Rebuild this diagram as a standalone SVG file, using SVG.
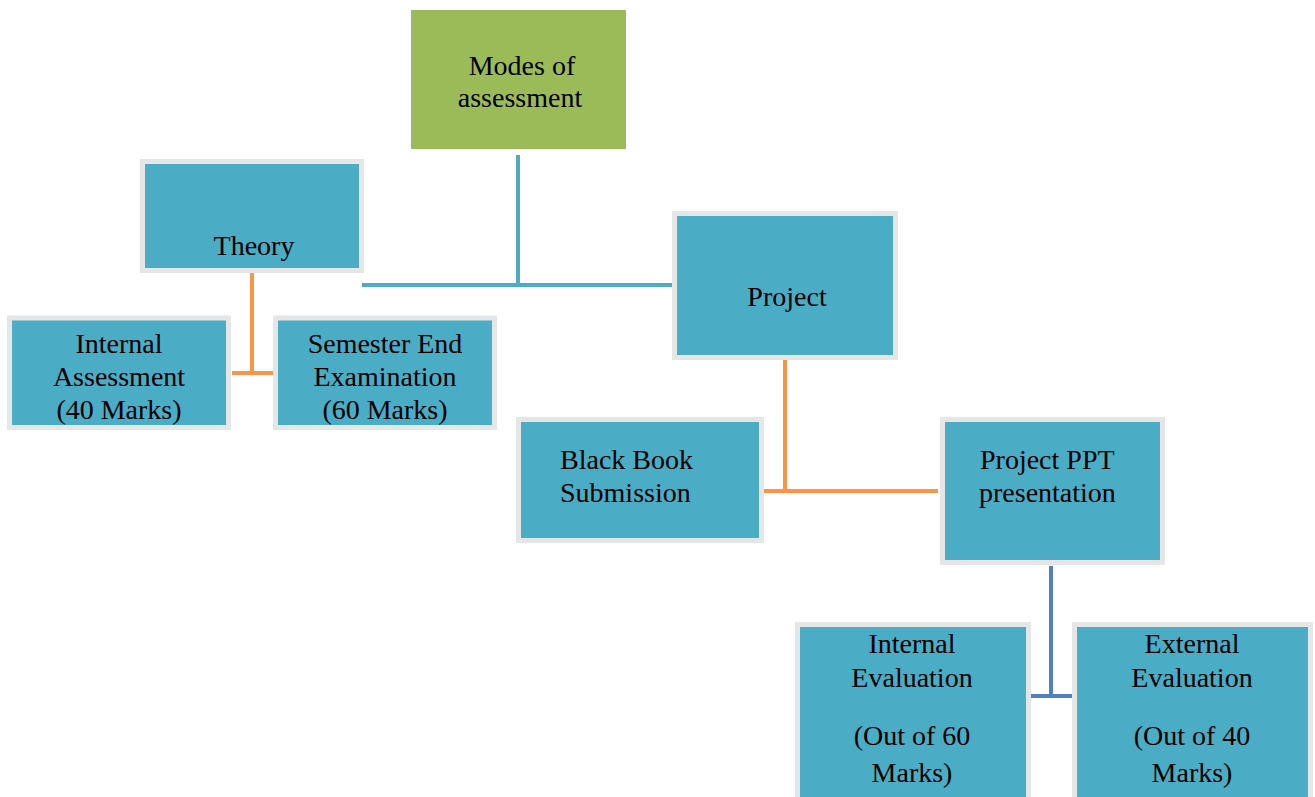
<svg xmlns="http://www.w3.org/2000/svg" width="1315" height="797" viewBox="0 0 1315 797">
<style>
.n{fill:#4BACC6;stroke:#E6E6E6;stroke-width:5}
.c1{stroke:#4BACC6;stroke-width:4;fill:none}
.c2{stroke:#F79646;stroke-width:4;fill:none}
.c3{stroke:#4F81BD;stroke-width:4;fill:none}
</style>
<rect width="1315" height="797" fill="#fff"/>
<g id="connectors">
<path class="c1" d="M518 155V285M362 285H672"/>
<path class="c2" d="M252 273V373M232 373H274"/>
<path class="c2" d="M785 360V491M763 491H938"/>
<path class="c3" d="M1051 566V696M1031 696H1073"/>
</g>
<g font-family="Liberation Serif, Times New Roman, DejaVu Serif, serif" font-size="28" fill="#000">
<g id="modes">
<rect x="411" y="10" width="215" height="139" fill="#9BBB59"/>
<text text-anchor="middle" x="522" y="75">Modes of</text>
<text text-anchor="middle" x="520" y="107">assessment</text>
</g>
<g id="theory">
<rect class="n" x="142.5" y="161.5" width="219" height="109"/>
<text text-anchor="middle" x="254" y="255">Theory</text>
</g>
<g id="internal-assessment">
<rect class="n" x="9.5" y="318" width="219" height="109.5"/>
<text text-anchor="middle" x="119" y="353">Internal</text>
<text text-anchor="middle" x="119" y="386">Assessment</text>
<text text-anchor="middle" x="119" y="419">(40 Marks)</text>
</g>
<g id="semester-end">
<rect class="n" x="275.5" y="318" width="219" height="109.5"/>
<text text-anchor="middle" x="385" y="353">Semester End</text>
<text text-anchor="middle" x="385" y="386">Examination</text>
<text text-anchor="middle" x="385" y="419">(60 Marks)</text>
</g>
<g id="project">
<rect class="n" x="674.5" y="213.5" width="221" height="144"/>
<text text-anchor="middle" x="787" y="306">Project</text>
</g>
<g id="black-book">
<rect class="n" x="518.5" y="419.5" width="243" height="121"/>
<text x="560" y="469">Black Book</text>
<text x="560" y="502">Submission</text>
</g>
<g id="project-ppt">
<rect class="n" x="942.5" y="419.5" width="220" height="143"/>
<text x="980" y="469">Project PPT</text>
<text x="979" y="502">presentation</text>
</g>
<g id="internal-evaluation">
<rect class="n" x="797.5" y="624.5" width="231" height="185"/>
<text text-anchor="middle" x="912" y="653">Internal</text>
<text text-anchor="middle" x="912" y="687">Evaluation</text>
<text text-anchor="middle" x="912" y="745">(Out of 60</text>
<text text-anchor="middle" x="912" y="782">Marks)</text>
</g>
<g id="external-evaluation">
<rect class="n" x="1074.5" y="624.5" width="236" height="185"/>
<text text-anchor="middle" x="1192" y="653">External</text>
<text text-anchor="middle" x="1192" y="687">Evaluation</text>
<text text-anchor="middle" x="1192" y="745">(Out of 40</text>
<text text-anchor="middle" x="1192" y="782">Marks)</text>
</g>
</g>
</svg>
